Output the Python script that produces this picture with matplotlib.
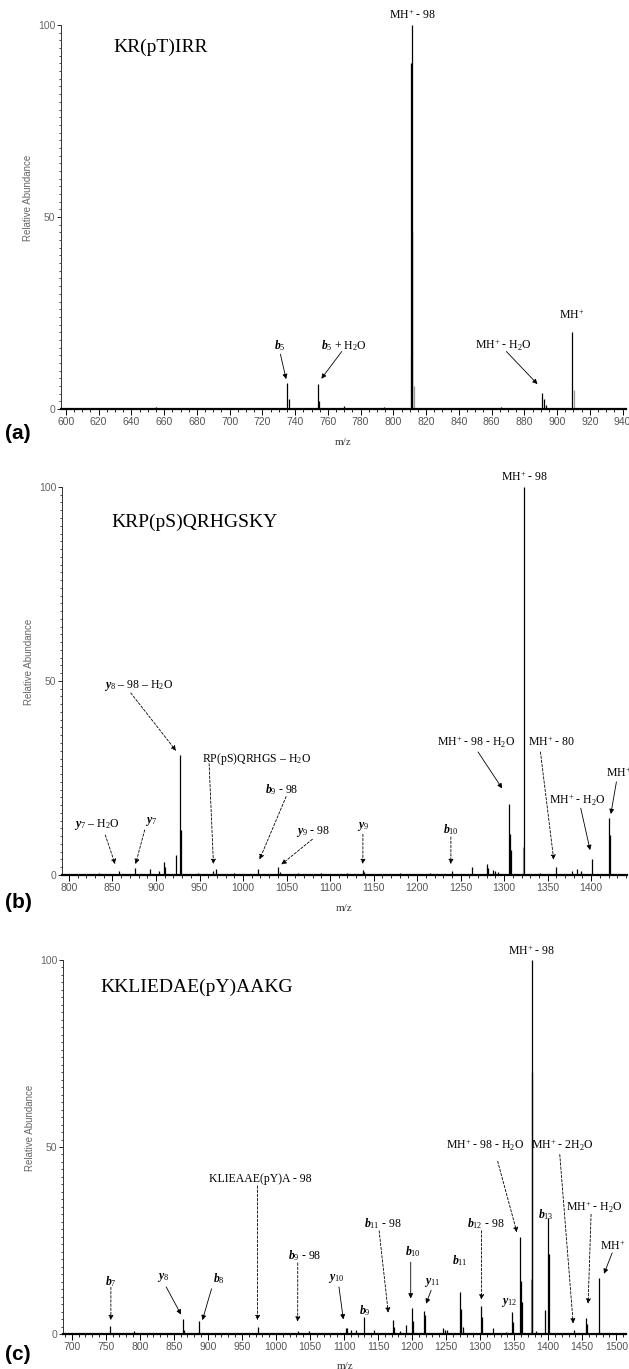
import numpy as np
import matplotlib.pyplot as plt
from matplotlib.ticker import MultipleLocator, FixedLocator

plt.rcParams['mathtext.fontset'] = 'custom'
plt.rcParams['mathtext.rm'] = 'Liberation Serif'
plt.rcParams['mathtext.it'] = 'Liberation Serif:italic:bold'
plt.rcParams['mathtext.bf'] = 'Liberation Serif:bold'

SERIF = 'Liberation Serif'
TICKFONT = ['Liberation Sans Narrow', 'Liberation Sans', 'DejaVu Sans']

# (a) KR(pT)IRR
peptide_a = 'KR(pT)IRR'
mz_a = [618, 626, 655, 680, 700, 735.3, 736.3, 753.8, 754.8, 770, 794,
        810.9, 811.1, 811.4, 866, 890.9, 891.9, 893, 909.3]
int_a = [0.3, 0.3, 0.6, 0.3, 0.3, 6.7, 2.6, 6.5, 2.0, 0.9, 0.6,
         90, 100, 46, 0.5, 4.3, 2.5, 1.0, 20]
grey_mz_a = [810.5, 812.4, 910.1]
grey_int_a = [14, 6, 5]

# (b) KRP(pS)QRHGSKY
peptide_b = 'KRP(pS)QRHGSKY'
mz_b = [820, 834, 858, 875.6, 893, 904, 909, 910.5, 923, 927, 928.2, 948,
        966, 969, 990, 1017, 1040, 1042.5, 1063, 1090, 1120, 1137.7, 1139,
        1180, 1215, 1239.7, 1262.9, 1280, 1282, 1287, 1290, 1293.5, 1305.6,
        1306.6, 1308, 1323, 1341.7, 1360, 1378, 1384, 1388, 1401, 1420.6,
        1421.6]
int_b = [0.3, 0.5, 1.0, 1.7, 1.6, 1.0, 3.4, 2.0, 5.1, 30.9, 11.6, 0.5,
         1.1, 1.5, 0.4, 1.5, 2.0, 0.8, 0.6, 0.4, 0.4, 1.3, 0.8,
         0.4, 0.4, 1.1, 2.1, 2.8, 1.7, 1.3, 1.1, 0.8, 18.4,
         10.5, 6.4, 100, 0.4, 2.1, 1.1, 1.5, 1.0, 4.0, 14.7,
         10.3]
grey_mz_b = [1321.3]
grey_int_b = [7.3]

# (c) KKLIEDAE(pY)AAKG
peptide_c = 'KKLIEDAE(pY)AAKG'
mz_c = [756, 792, 863, 865.5, 887.5, 940, 973, 1000, 1031.8, 1049, 1102.6,
        1105, 1111, 1118, 1129, 1144, 1172, 1174, 1182, 1191.7, 1199.5,
        1200.8, 1217.7, 1219, 1245.5, 1247.8, 1252, 1269.7, 1271.2, 1275.5,
        1301.8, 1303, 1318.7, 1338.7, 1346.4, 1348, 1358, 1359.8, 1361,
        1375.6, 1376.1, 1382, 1394.8, 1399.4, 1400.6, 1438, 1455.6, 1456.8,
        1474.5]
int_c = [2.2, 0.7, 4.0, 1.0, 3.5, 0.3, 1.9, 0.3, 0.9, 0.7, 1.7,
         1.5, 1.0, 1.2, 4.6, 1.2, 3.7, 1.9, 0.9, 2.4, 7.0,
         3.5, 6.1, 5.0, 1.5, 1.2, 1.1, 11.2, 6.8, 1.8,
         7.5, 4.6, 1.5, 0.6, 5.9, 3.3, 25.8, 14.3, 8.6,
         70, 100, 0.9, 6.4, 30.9, 21.4, 1.1, 4.4, 2.6,
         15.0]
grey_mz_c = [1375.0]
grey_int_c = [14.8]

# labels: (text, x, y)   arrows: (start, tip, line style)
labels_a = [('MH$^{+}$ - 98', 811.5, 102.5), ('$b_{5}$', 730.5, 16.6),
            ('$b_{5}$ + H$_{2}$O', 770, 16.6),
            ('MH$^{+}$ - H$_{2}$O', 867, 16.6), ('MH$^{+}$', 909, 24.5)]
arrows_a = [((731, 14.3), (734.5, 7.8), '-'),
            ((768.5, 15.0), (756, 7.9), '-'),
            ((869, 15.0), (888, 6.5), '-')]

labels_b = [('MH$^{+}$ - 98', 1323, 102.5),
            ('$y_{8}$ – 98 – H$_{2}$O', 880, 48.7),
            ('RP(pS)QRHGS – H$_{2}$O', 1015, 30),
            ('$b_{9}$ - 98', 1045, 22.1),
            ('$y_{9}$ - 98', 1080, 11.1),
            ('$y_{7}$ – H$_{2}$O', 831.5, 12.9),
            ('$y_{7}$', 894, 13.7),
            ('$y_{9}$', 1137.7, 12.4),
            ('$b_{10}$', 1238.8, 11.6),
            ('MH$^{+}$ - 98 - H$_{2}$O', 1267.5, 34.3),
            ('MH$^{+}$ - 80', 1354.7, 34.3),
            ('MH$^{+}$ - H$_{2}$O', 1384, 19.3),
            ('MH$^{+}$', 1431, 26.3)]
arrows_b = [((871, 46.9), (923, 32), '--'),
            ((961, 28.7), (966, 2.8), '--'),
            ((1049.5, 20.2), (1019, 4.0), '--'),
            ((1079.7, 9.2), (1044, 2.7), '--'),
            ((841.7, 10.3), (853, 2.8), '--'),
            ((887, 11.6), (876.5, 2.8), '--'),
            ((1137.7, 10.5), (1137.7, 2.8), '--'),
            ((1238.8, 9.8), (1238.8, 2.8), '--'),
            ((1270, 31.7), (1297.7, 22.3), '-'),
            ((1341.7, 31.7), (1357, 3.9), '--'),
            ((1388, 17.2), (1398.8, 6.4), '-'),
            ((1429, 24), (1422.6, 15.7), '-')]

labels_c = [('MH$^{+}$ - 98', 1376, 102.5),
            ('$b_{7}$', 758, 14.1),
            ('$y_{8}$', 834.6, 15.2),
            ('$b_{8}$', 915.5, 14.8),
            ('KLIEAAE(pY)A - 98', 977.5, 41.5),
            ('$b_{9}$ - 98', 1042, 21),
            ('$y_{10}$', 1088.4, 14.8),
            ('$b_{9}$', 1131, 6.3),
            ('$b_{11}$ - 98', 1157.5, 29.4),
            ('$b_{10}$', 1200.6, 21.9),
            ('$y_{11}$', 1230, 13.9),
            ('$b_{11}$', 1269.7, 19.6),
            ('$b_{12}$ - 98', 1308, 29.4),
            ('$y_{12}$', 1342, 8.3),
            ('MH$^{+}$ - 98 - H$_{2}$O', 1308, 50.6),
            ('MH$^{+}$ - 2H$_{2}$O', 1420, 50.6),
            ('$b_{13}$', 1396.6, 32.0),
            ('MH$^{+}$ - H$_{2}$O', 1468, 34.0),
            ('MH$^{+}$', 1495, 23.6)]
arrows_c = [((757.5, 12.5), (757.5, 3.7), '--'),
            ((838.7, 12.6), (860.6, 5.2), '-'),
            ((905.4, 12.1), (891.9, 3.7), '-'),
            ((973, 39.6), (973, 3.7), '--'),
            ((1032, 19.0), (1032, 3.3), '--'),
            ((1092.6, 12.6), (1099, 3.9), '-'),
            ((1151.6, 27.6), (1165, 5.7), '--'),
            ((1198, 19.2), (1198, 9.5), '-'),
            ((1228, 11.7), (1220.6, 8.1), '-'),
            ((1302, 27.6), (1302, 9.2), '--'),
            ((1325.7, 46.2), (1354, 27.2), '--'),
            ((1417, 48), (1436.7, 2.8), '--'),
            ((1463, 32), (1458.6, 8.1), '--'),
            ((1494, 21.7), (1482, 16.1), '-')]


def draw_panel(ax, mz, inten, gmz, gint, xlim, major, minor,
               peptide, pep_pos, labels, arrows, letter, letter_y):
    ax.vlines(gmz, 0, gint, color='#9a9a9a', lw=0.9)
    ax.vlines(mz, 0, inten, color='k', lw=0.9)
    ax.set_xlim(*xlim)
    ax.set_ylim(0, 100)

    for s in ['top', 'right']:
        ax.spines[s].set_visible(False)
    ax.spines['bottom'].set_linewidth(1.6)
    ax.spines['left'].set_linewidth(0.7)
    ax.spines['left'].set_color('#333333')

    ax.xaxis.set_major_locator(MultipleLocator(major))
    ax.xaxis.set_minor_locator(MultipleLocator(minor))
    ax.yaxis.set_major_locator(FixedLocator([0, 50, 100]))
    ax.yaxis.set_minor_locator(MultipleLocator(2))
    ax.tick_params(axis='x', which='major', length=4, width=0.7,
                   labelsize=7.5, labelcolor='#555555', pad=2)
    ax.tick_params(axis='x', which='minor', length=2.5, width=0.6)
    ax.tick_params(axis='y', which='major', length=3, width=0.6,
                   labelsize=7.5, labelcolor='#666666', pad=1)
    ax.tick_params(axis='y', which='minor', length=1.8, width=0.5)
    for t in ax.get_xticklabels() + ax.get_yticklabels():
        t.set_family(TICKFONT)

    ax.set_xlabel('m/z', family=SERIF, fontsize=8, color='#333333')
    ax.xaxis.set_label_coords(0.5, -0.075)
    ax.set_ylabel('Relative Abundance', family=TICKFONT, fontsize=7,
                  color='#666666')
    ax.yaxis.set_label_coords(-0.05, 0.55)

    ax.text(pep_pos[0], pep_pos[1], peptide, transform=ax.transAxes,
            family=SERIF, fontsize=14, ha='left', va='center')

    for txt, x, y in labels:
        ax.text(x, y, txt, family=SERIF, fontsize=8.5, ha='center',
                va='center', clip_on=False)
    for start, tip, ls in arrows:
        style = (0, (3, 2)) if ls == '--' else '-'
        ax.annotate('', xy=tip, xytext=start, annotation_clip=False,
                    arrowprops=dict(arrowstyle='-|>', color='k', lw=0.6,
                                    linestyle=style, mutation_scale=7,
                                    shrinkA=0, shrinkB=0))

    fig.text(0.008, letter_y, letter, fontsize=15, fontweight='bold',
             family='Liberation Sans', ha='left', va='center')


fig = plt.figure(figsize=(6.29, 13.69), dpi=100)
ax_a = fig.add_axes([0.097, 0.7012, 0.898, 0.2805])
ax_b = fig.add_axes([0.0986, 0.3609, 0.898, 0.2834])
ax_c = fig.add_axes([0.100, 0.02557, 0.896, 0.2732])

draw_panel(ax_a, mz_a, int_a, grey_mz_a, grey_int_a, (597, 942), 20, 5,
           peptide_a, (0.092, 0.943), labels_a, arrows_a,
           '(a)', 1 - 433 / 1369)
draw_panel(ax_b, mz_b, int_b, grey_mz_b, grey_int_b, (792, 1441), 50, 10,
           peptide_b, (0.087, 0.91), labels_b, arrows_b,
           '(b)', 1 - 903 / 1369)
draw_panel(ax_c, mz_c, int_c, grey_mz_c, grey_int_c, (687, 1515), 50, 10,
           peptide_c, (0.067, 0.928), labels_c, arrows_c,
           '(c)', 1 - 1355 / 1369)

fig.savefig('out.png', dpi=100)
